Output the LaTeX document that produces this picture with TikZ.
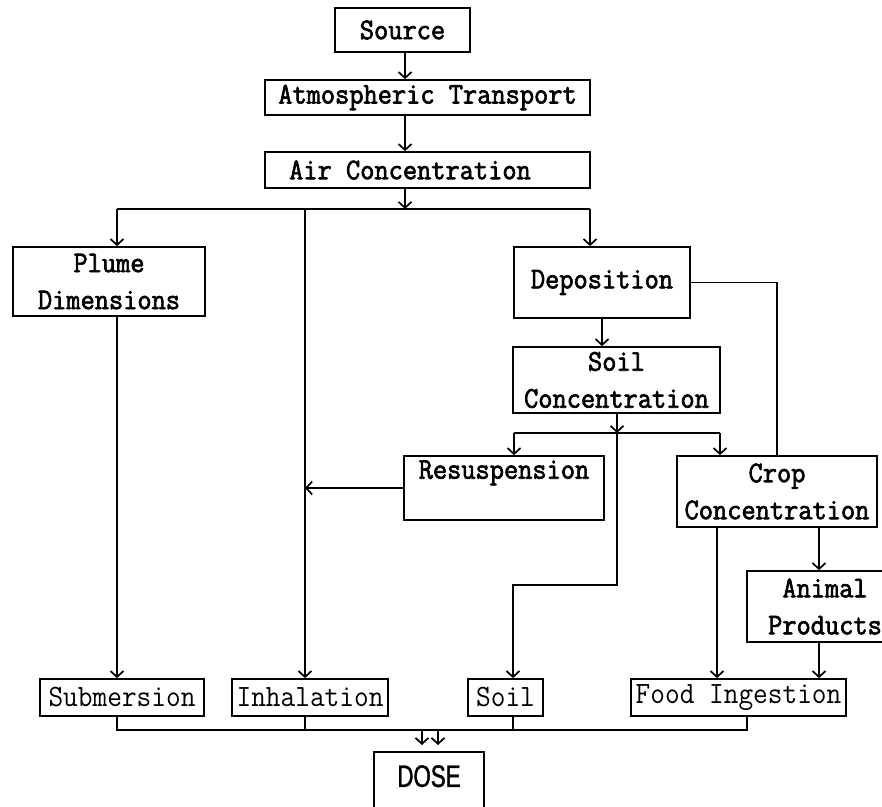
\documentclass[tikz,border=0pt]{standalone}
\usepackage{fontspec}
\newfontfamily\dotfont[FakeStretch=0.92]{Latin Modern Mono}
\newfontfamily\dotbfont[FakeStretch=0.92,FakeBold=2.2]{Latin Modern Mono}
\newfontfamily\dosefont[FakeStretch=0.72,FakeBold=1.2]{Liberation Sans}
\usetikzlibrary{arrows.meta}
\begin{document}
\begin{tikzpicture}[x=1pt,y=-1pt,
  box/.style={draw, line width=1.7pt, inner sep=0pt, align=center, font={\dotbfont\fontsize{30pt}{37pt}\selectfont}},
  lowbox/.style={draw, line width=1.7pt, inner sep=0pt, font={\dotfont\fontsize{31pt}{37pt}\selectfont}},
  conn/.style={line width=1.7pt},
  arr/.style={conn, -{Straight Barb[length=6pt,width=13pt]}},
]
\useasboundingbox (0,0) rectangle (882,806);

% nodes
\node[box, minimum width=135pt, minimum height=44pt] (src) at (402.5,30) {Source};
\node[box, minimum width=325pt, minimum height=35pt] (atm) at (427.5,97.5) {Atmospheric Transport};
\node[box, minimum width=325pt, minimum height=36pt] (air) at (427.5,170) {Air Concentration\hspace*{35pt}};
\node[box, minimum width=192pt, minimum height=69pt] (plume) at (109,281.5) {Plume\\Dimensions};
\node[box, minimum width=176pt, minimum height=71pt] (dep) at (602,282.5) {Deposition};
\node[box, minimum width=207pt, minimum height=66pt] (soilc) at (616.5,380) {Soil\\Concentration};
\node[box, minimum width=200pt, minimum height=64pt] (resus) at (504,488) {Resuspension\\\mbox{}};
\node[box, minimum width=200pt, minimum height=71pt] (crop) at (777,491.5) {Crop\\Concentration};
\node[box, minimum width=156pt, minimum height=71pt] (animal) at (825,606.5) {Animal\\Products};
\node[lowbox, minimum width=164pt, minimum height=37pt] (sub) at (122,697.5) {Submersion};
\node[lowbox, minimum width=156pt, minimum height=37pt] (inh) at (310,697.5) {Inhalation};
\node[lowbox, minimum width=75pt, minimum height=37pt] (soil) at (505.5,697.5) {Soil};
\node[lowbox, minimum width=215pt, minimum height=37pt] (food) at (738.5,697.5) {Food Ingestion};
\node[draw, line width=1.7pt, inner sep=0pt, minimum width=110pt, text height=35pt, text depth=75pt, anchor=north, font={\dosefont\fontsize{31pt}{31pt}\selectfont}] (dose) at (429,751) {DOSE};

% coordinates
\coordinate (bL) at (117,209);
\coordinate (bR) at (590,209);
\coordinate (bI) at (305,209);
\coordinate (bC) at (405,209);
\coordinate (sC) at (617,433);
\coordinate (sL) at (514,433);
\coordinate (sR) at (720,433);
\coordinate (k1) at (617,585);
\coordinate (k2) at (513,585);
\coordinate (cF) at (717,0);
\coordinate (cA) at (819,0);
\coordinate (bb) at (0,730);
\coordinate (fS) at (747,0);
\coordinate (d1) at (422,730);
\coordinate (d2) at (438,730);

% connectors
\draw[arr] (src.south -| bC) -- (atm.north -| bC);
\draw[arr] (atm.south -| bC) -- (air.north -| bC);
\draw[arr] (air.south -| bC) -- (bC);
\draw[conn] (bL) -- (bR);
\draw[arr] (bL) -- (bL |- plume.north);
\draw[arr] (bR) -- (bR |- dep.north);
\draw[arr] (bI) -- (bI |- inh.north);
\draw[arr] (bL |- plume.south) -- (bL |- sub.north);
\draw[arr] (dep.south) -- (dep.south |- soilc.north);
\draw[conn] (dep.east) -| (crop.north);
\draw[arr] (soilc.south -| sC) -- (sC);
\draw[conn] (sL) -- (sR);
\draw[arr] (sL) -- (sL |- resus.north);
\draw[arr] (sR) -- (sR |- crop.north);
\draw[arr] (sC) -- (k1) -- (k2) -- (k2 |- soil.north);
\draw[arr] (resus.west) -- (bI |- resus.west);
\draw[arr] (crop.south -| cF) -- (food.north -| cF);
\draw[arr] (crop.south -| cA) -- (animal.north -| cA);
\draw[arr] (animal.south -| cA) -- (food.north -| cA);
\draw[conn] (sub.south -| bL) -- (bL |- bb) -- (fS |- bb) -- (food.south -| fS);
\draw[conn] (inh.south -| bI) -- (bI |- bb);
\draw[conn] (soil.south -| k2) -- (k2 |- bb);
\draw[arr, shorten >=6pt] (d1) -- (d1 |- dose.north);
\draw[arr, shorten >=6pt] (d2) -- (d2 |- dose.north);
\end{tikzpicture}
\end{document}
